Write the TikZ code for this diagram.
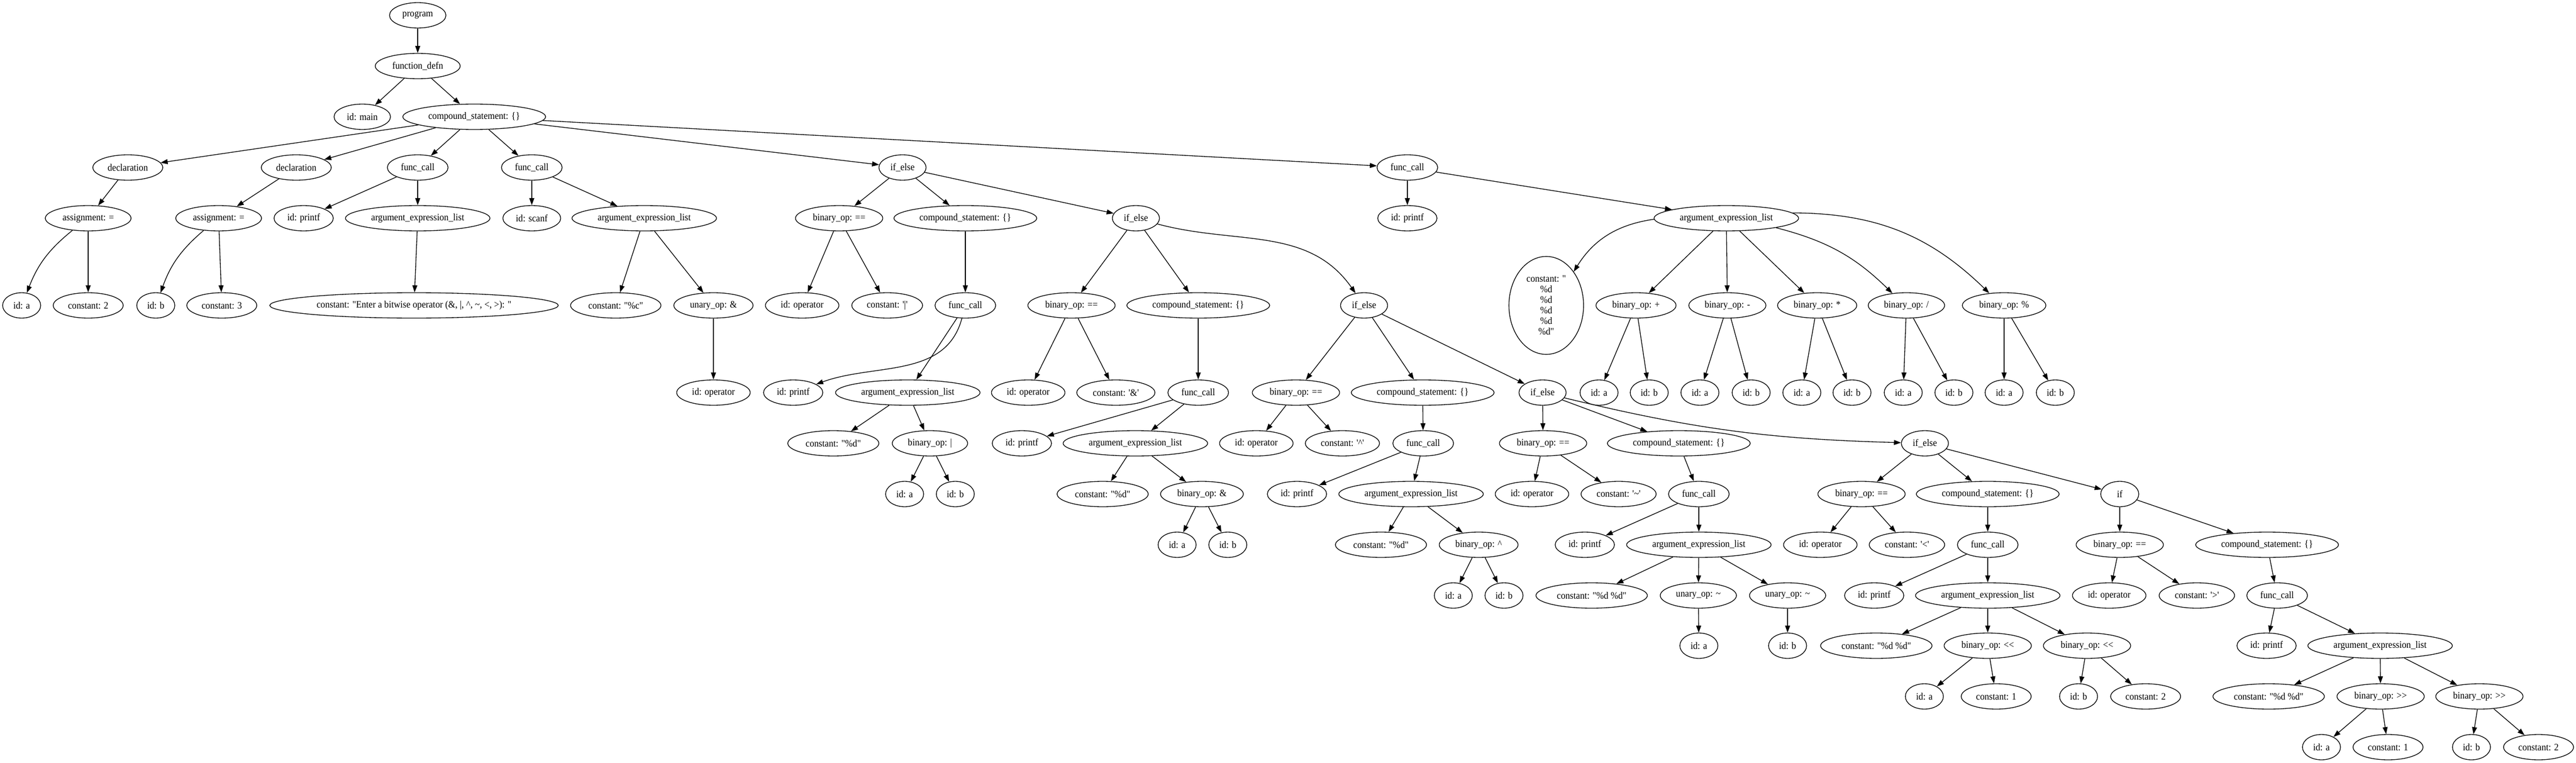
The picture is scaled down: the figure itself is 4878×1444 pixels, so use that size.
\documentclass[tikz,border=0pt]{standalone}
\usepackage{fontspec}
\setmainfont{Liberation Serif}[Ligatures=TeXOff,FakeStretch=0.92]
\usetikzlibrary{arrows.meta,shapes.geometric}
\begin{document}
\begin{tikzpicture}[x=0.75pt,y=-0.75pt,
  n/.style={draw, ellipse, line width=1pt, inner xsep=6.5pt, inner ysep=4pt,
    minimum width=54pt, minimum height=36pt, font=\fontsize{14pt}{16pt}\selectfont},
  e/.style={-{Triangle[length=10pt,width=7pt]}, line width=1pt}]
\useasboundingbox (0,0) rectangle (4878,1444);
% rank 0-2
\node[n] (program) at (791,29) {program};
\node[n] (fdefn) at (791,125) {function\_defn};
\node[n] (idmain) at (686,221) {id: main};
\node[n] (cs0) at (898,221) {compound\_statement: \{\}};
% rank 3
\node[n] (decl1) at (242,317) {declaration};
\node[n] (decl2) at (561,317) {declaration};
\node[n] (fc1) at (791,317) {func\_call};
\node[n] (fc2) at (1007,317) {func\_call};
\node[n] (ie1) at (1709,317) {if\_else};
\node[n] (fc3) at (2665,317) {func\_call};
% rank 4
\node[n] (asg1) at (167,413) {assignment: =};
\node[n] (asg2) at (414,413) {assignment: =};
\node[n] (idpf1) at (575,413) {id: printf};
\node[n] (ael1) at (791,413) {argument\_expression\_list};
\node[n] (idscanf) at (1007,413) {id: scanf};
\node[n] (ael2) at (1220,413) {argument\_expression\_list};
\node[n] (bo1) at (1589,413) {binary\_op: ==};
\node[n] (cs1) at (1828,413) {compound\_statement: \{\}};
\node[n] (ie2) at (2151,413) {if\_else};
\node[n] (idpf3) at (2665,413) {id: printf};
\node[n] (ael3) at (3269,413) {argument\_expression\_list};
% rank 5
\node[n] (ida1) at (41,578) {id: a};
\node[n] (c2) at (167,578) {constant: 2};
\node[n] (idb1) at (295,578) {id: b};
\node[n] (c3) at (420,578) {constant: 3};
\node[n] (center) at (784,578) {constant: "Enter a bitwise operator (\&, |, \textasciicircum, \textasciitilde, <, >): "};
\node[n] (cpc) at (1166,578) {constant: "\%c"};
\node[n] (uop1) at (1351,578) {unary\_op: \&};
\node[n] (idop1) at (1519,578) {id: operator};
\node[n] (cbar) at (1680,578) {constant: '|'};
\node[n] (fc4) at (1828,578) {func\_call};
\node[n] (bo2) at (2029,578) {binary\_op: ==};
\node[n] (cs2) at (2269,578) {compound\_statement: \{\}};
\node[n] (ie3) at (2583,578) {if\_else};
\node[n, align=center, inner sep=0pt, minimum width=106pt, minimum height=139pt,
  font=\fontsize{14pt}{15pt}\selectfont] (cmulti) at (2928,578)
  {constant: "\\\%d\\\%d\\\%d\\\%d\\\%d"};
\node[n] (bplus) at (3098,578) {binary\_op: +};
\node[n] (bminus) at (3271,578) {binary\_op: -};
\node[n] (bstar) at (3441,578) {binary\_op: *};
\node[n] (bdiv) at (3610,578) {binary\_op: /};
\node[n] (bmod) at (3795,578) {binary\_op: \%};
% rank 6
\node[n] (idop2) at (1351,743) {id: operator};
\node[n] (idpf4) at (1502,743) {id: printf};
\node[n] (ael4) at (1719,743) {argument\_expression\_list};
\node[n] (idop3) at (1947,743) {id: operator};
\node[n] (camp) at (2113,743) {constant: '\&'};
\node[n] (fc5) at (2269,743) {func\_call};
\node[n] (bo3) at (2454,743) {binary\_op: ==};
\node[n] (cs3) at (2694,743) {compound\_statement: \{\}};
\node[n] (ie4) at (2921,743) {if\_else};
\node[n] (pa) at (3028,743) {id: a};
\node[n] (pb) at (3123,743) {id: b};
\node[n] (ma) at (3219,743) {id: a};
\node[n] (mb) at (3316,743) {id: b};
\node[n] (sa) at (3412,743) {id: a};
\node[n] (sb) at (3507,743) {id: b};
\node[n] (da) at (3604,743) {id: a};
\node[n] (db) at (3700,743) {id: b};
\node[n] (ra) at (3795,743) {id: a};
\node[n] (rb) at (3892,743) {id: b};
% rank 7
\node[n] (cd1) at (1578,839) {constant: "\%d"};
\node[n] (bor) at (1761,839) {binary\_op: |};
\node[n] (idpf5) at (1935,839) {id: printf};
\node[n] (ael5) at (2150,839) {argument\_expression\_list};
\node[n] (idop4) at (2379,839) {id: operator};
\node[n] (ccaret) at (2542,839) {constant: '\textasciicircum'};
\node[n] (fc6) at (2695,839) {func\_call};
\node[n] (bo4) at (2922,839) {binary\_op: ==};
\node[n] (cs4) at (3179,839) {compound\_statement: \{\}};
\node[n] (ie5) at (3645,839) {if\_else};
% rank 8
\node[n] (ida2) at (1713,935) {id: a};
\node[n] (idb2) at (1809,935) {id: b};
\node[n] (cd2) at (2088,935) {constant: "\%d"};
\node[n] (band) at (2276,935) {binary\_op: \&};
\node[n] (idpf6) at (2456,935) {id: printf};
\node[n] (ael6) at (2672,935) {argument\_expression\_list};
\node[n] (idop5) at (2901,935) {id: operator};
\node[n] (ctilde) at (3065,935) {constant: '\textasciitilde'};
\node[n] (fc7) at (3217,935) {func\_call};
\node[n] (bo5) at (3525,935) {binary\_op: ==};
\node[n] (cs5) at (3764,935) {compound\_statement: \{\}};
\node[n] (if1) at (4014,935) {if};
% rank 9
\node[n] (ida3) at (2229,1031) {id: a};
\node[n] (idb3) at (2325,1031) {id: b};
\node[n] (cd3) at (2615,1031) {constant: "\%d"};
\node[n] (bxor) at (2800,1031) {binary\_op: \textasciicircum};
\node[n] (idpf7) at (3001,1031) {id: printf};
\node[n] (ael7) at (3217,1031) {argument\_expression\_list};
\node[n] (idop6) at (3447,1031) {id: operator};
\node[n] (clt) at (3611,1031) {constant: '<'};
\node[n] (fc8) at (3764,1031) {func\_call};
\node[n] (bo6) at (4014,1031) {binary\_op: ==};
\node[n] (cs6) at (4293,1031) {compound\_statement: \{\}};
% rank 10
\node[n] (ida4) at (2752,1127) {id: a};
\node[n] (idb4) at (2848,1127) {id: b};
\node[n] (cdd1) at (3014,1127) {constant: "\%d \%d"};
\node[n] (uop2) at (3216,1127) {unary\_op: \textasciitilde};
\node[n] (uop3) at (3385,1127) {unary\_op: \textasciitilde};
\node[n] (idpf8) at (3549,1127) {id: printf};
\node[n] (ael8) at (3764,1127) {argument\_expression\_list};
\node[n] (idop7) at (3994,1127) {id: operator};
\node[n] (cgt) at (4160,1127) {constant: '>'};
\node[n] (fc9) at (4312,1127) {func\_call};
% rank 11
\node[n] (ida5) at (3217,1222) {id: a};
\node[n] (idb5) at (3385,1222) {id: b};
\node[n] (cdd2) at (3553,1222) {constant: "\%d \%d"};
\node[n] (bshl1) at (3764,1222) {binary\_op: <<};
\node[n] (bshl2) at (3952,1222) {binary\_op: <<};
\node[n] (idpf9) at (4292,1222) {id: printf};
\node[n] (ael9) at (4507,1222) {argument\_expression\_list};
% rank 12
\node[n] (ida6) at (3644,1318) {id: a};
\node[n] (c1a) at (3780,1318) {constant: 1};
\node[n] (idb6) at (3936,1318) {id: b};
\node[n] (c2a) at (4063,1318) {constant: 2};
\node[n] (cdd3) at (4296,1318) {constant: "\%d \%d"};
\node[n] (bshr1) at (4508,1318) {binary\_op: >>};
\node[n] (bshr2) at (4695,1318) {binary\_op: >>};
% rank 13
\node[n] (ida7) at (4396,1414) {id: a};
\node[n] (c1b) at (4522,1414) {constant: 1};
\node[n] (idb7) at (4680,1414) {id: b};
\node[n] (c2b) at (4807,1414) {constant: 2};
% straight edges
\foreach \a/\b in {program/fdefn, fdefn/idmain, fdefn/cs0, cs0/decl1, cs0/decl2, cs0/fc1, cs0/fc2, cs0/ie1, cs0/fc3,
  decl1/asg1, asg1/c2, decl2/asg2, asg2/c3,
  fc1/idpf1, fc1/ael1, ael1/center,
  fc2/idscanf, fc2/ael2, ael2/cpc, ael2/uop1, uop1/idop2,
  ie1/bo1, ie1/cs1, ie1/ie2, bo1/idop1, bo1/cbar, cs1/fc4, fc4/ael4, ael4/cd1, ael4/bor, bor/ida2, bor/idb2,
  ie2/bo2, ie2/cs2, bo2/idop3, bo2/camp, cs2/fc5, fc5/idpf5, fc5/ael5, ael5/cd2, ael5/band, band/ida3, band/idb3,
  ie3/bo3, ie3/cs3, ie3/ie4, bo3/idop4, bo3/ccaret, cs3/fc6, fc6/idpf6, fc6/ael6, ael6/cd3, ael6/bxor, bxor/ida4, bxor/idb4,
  ie4/bo4, ie4/cs4, bo4/idop5, bo4/ctilde, cs4/fc7, fc7/idpf7, fc7/ael7, ael7/cdd1, ael7/uop2, ael7/uop3, uop2/ida5, uop3/idb5,
  ie5/bo5, ie5/cs5, ie5/if1, bo5/idop6, bo5/clt, cs5/fc8, fc8/idpf8, fc8/ael8, ael8/cdd2, ael8/bshl1, ael8/bshl2,
  bshl1/ida6, bshl1/c1a, bshl2/idb6, bshl2/c2a,
  if1/bo6, if1/cs6, bo6/idop7, bo6/cgt, cs6/fc9, fc9/idpf9, fc9/ael9, ael9/cdd3, ael9/bshr1, ael9/bshr2,
  bshr1/ida7, bshr1/c1b, bshr2/idb7, bshr2/c2b,
  fc3/idpf3, fc3/ael3, ael3/bplus, ael3/bminus, ael3/bstar,
  bplus/pa, bplus/pb, bminus/ma, bminus/mb, bstar/sa, bstar/sb, bdiv/da, bdiv/db, bmod/ra, bmod/rb}
  \draw[e] (\a) -- (\b);
% curved edges
\draw[e] (asg1) to[bend right=15] (ida1);
\draw[e] (asg2) to[bend right=15] (idb1);
\draw[e] (fc4) to[out=-105,in=20] (idpf4);
\draw[e] (ie2) to[out=-15,in=125] (ie3);
\draw[e] (ie4) to[bend right=6] (ie5);
\draw[e] (ael3) to[bend right=25] (cmulti);
\draw[e] (ael3) to[bend left=15] (bdiv);
\draw[e] (ael3) to[bend left=22] (bmod);
\end{tikzpicture}
\end{document}
